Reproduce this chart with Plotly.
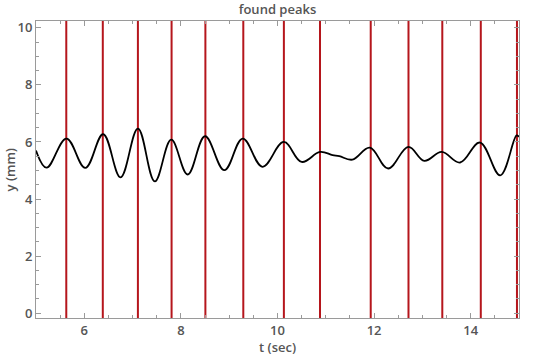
import plotly.graph_objects as go

# Signal samples (t in sec, y in mm): start, peaks, troughs, end
t_sec = [5.00, 5.22, 5.63, 6.02, 6.39, 6.75, 7.11, 7.46, 7.80, 8.14, 8.50, 8.90,
         9.28, 9.69, 10.13, 10.50, 10.88, 11.14, 11.28, 11.55, 11.91, 12.29,
         12.71, 13.04, 13.40, 13.78, 14.19, 14.61, 14.95, 15.00]
y_mm = [5.70, 5.10, 6.12, 5.09, 6.27, 4.76, 6.47, 4.62, 6.08, 4.86, 6.20, 5.01,
        6.12, 5.13, 6.00, 5.30, 5.65, 5.54, 5.50, 5.38, 5.80, 5.07,
        5.83, 5.34, 5.65, 5.28, 5.98, 4.83, 6.23, 6.18]

# Found peak times (sec)
peak_t = [5.627, 6.383, 7.110, 7.807, 8.507, 9.292, 10.132, 10.880,
          11.930, 12.712, 13.412, 14.209, 14.958]

x_ticks = [6, 8, 10, 12, 14]
y_ticks = [0, 2, 4, 6, 8, 10]

txt = "#555555"
frame = "#9a9a9a"
font_family = "Open Sans, Noto Sans, DejaVu Sans, sans-serif"

fig = go.Figure()
fig.add_trace(go.Scatter(
    x=t_sec, y=y_mm, mode="lines",
    line=dict(color="black", width=1.8, shape="spline", smoothing=1.1),
    hoverinfo="skip", showlegend=False))

for p in peak_t:
    fig.add_shape(type="line", xref="x", yref="paper", x0=p, x1=p, y0=0, y1=1,
                  line=dict(color="#B5161C", width=2), layer="below")

axis_common = dict(
    showgrid=False, zeroline=False, showline=True, linecolor=frame, linewidth=1,
    mirror="ticks", ticks="inside", ticklen=5, tickcolor=frame, tickwidth=1,
    tickfont=dict(family=font_family, size=13, color=txt, weight=600),
)

fig.update_xaxes(range=[5, 15], tickvals=x_ticks, ticktext=[str(v) for v in x_ticks],
                 minor=dict(dtick=0.5, tick0=0, ticks="inside", ticklen=3,
                            tickcolor=frame, tickwidth=1),
                 **axis_common)
fig.update_yaxes(range=[-0.17, 10.24], tickvals=y_ticks, ticktext=[str(v) for v in y_ticks],
                 minor=dict(dtick=0.5, tick0=0, ticks="inside", ticklen=3,
                            tickcolor=frame, tickwidth=1),
                 **axis_common)

fig.update_layout(
    width=540, height=358,
    margin=dict(l=36, r=21, t=21, b=40),
    paper_bgcolor="white", plot_bgcolor="white",
    title=dict(text="found peaks", x=0.5, xref="paper", y=0.975, yref="container",
               xanchor="center", yanchor="middle",
               font=dict(family=font_family, size=13, color=txt, weight=600)),
    annotations=[
        dict(text="t (sec)", xref="paper", yref="paper", x=0.5, y=-0.098,
             xanchor="center", yanchor="middle", showarrow=False,
             font=dict(family=font_family, size=13, color=txt, weight=600)),
        dict(text="y (mm)", xref="paper", yref="paper", x=-0.054, y=0.5,
             xanchor="center", yanchor="middle", showarrow=False, textangle=-90,
             font=dict(family=font_family, size=13, color=txt, weight=600)),
    ],
)

fig.write_html("out.html")
